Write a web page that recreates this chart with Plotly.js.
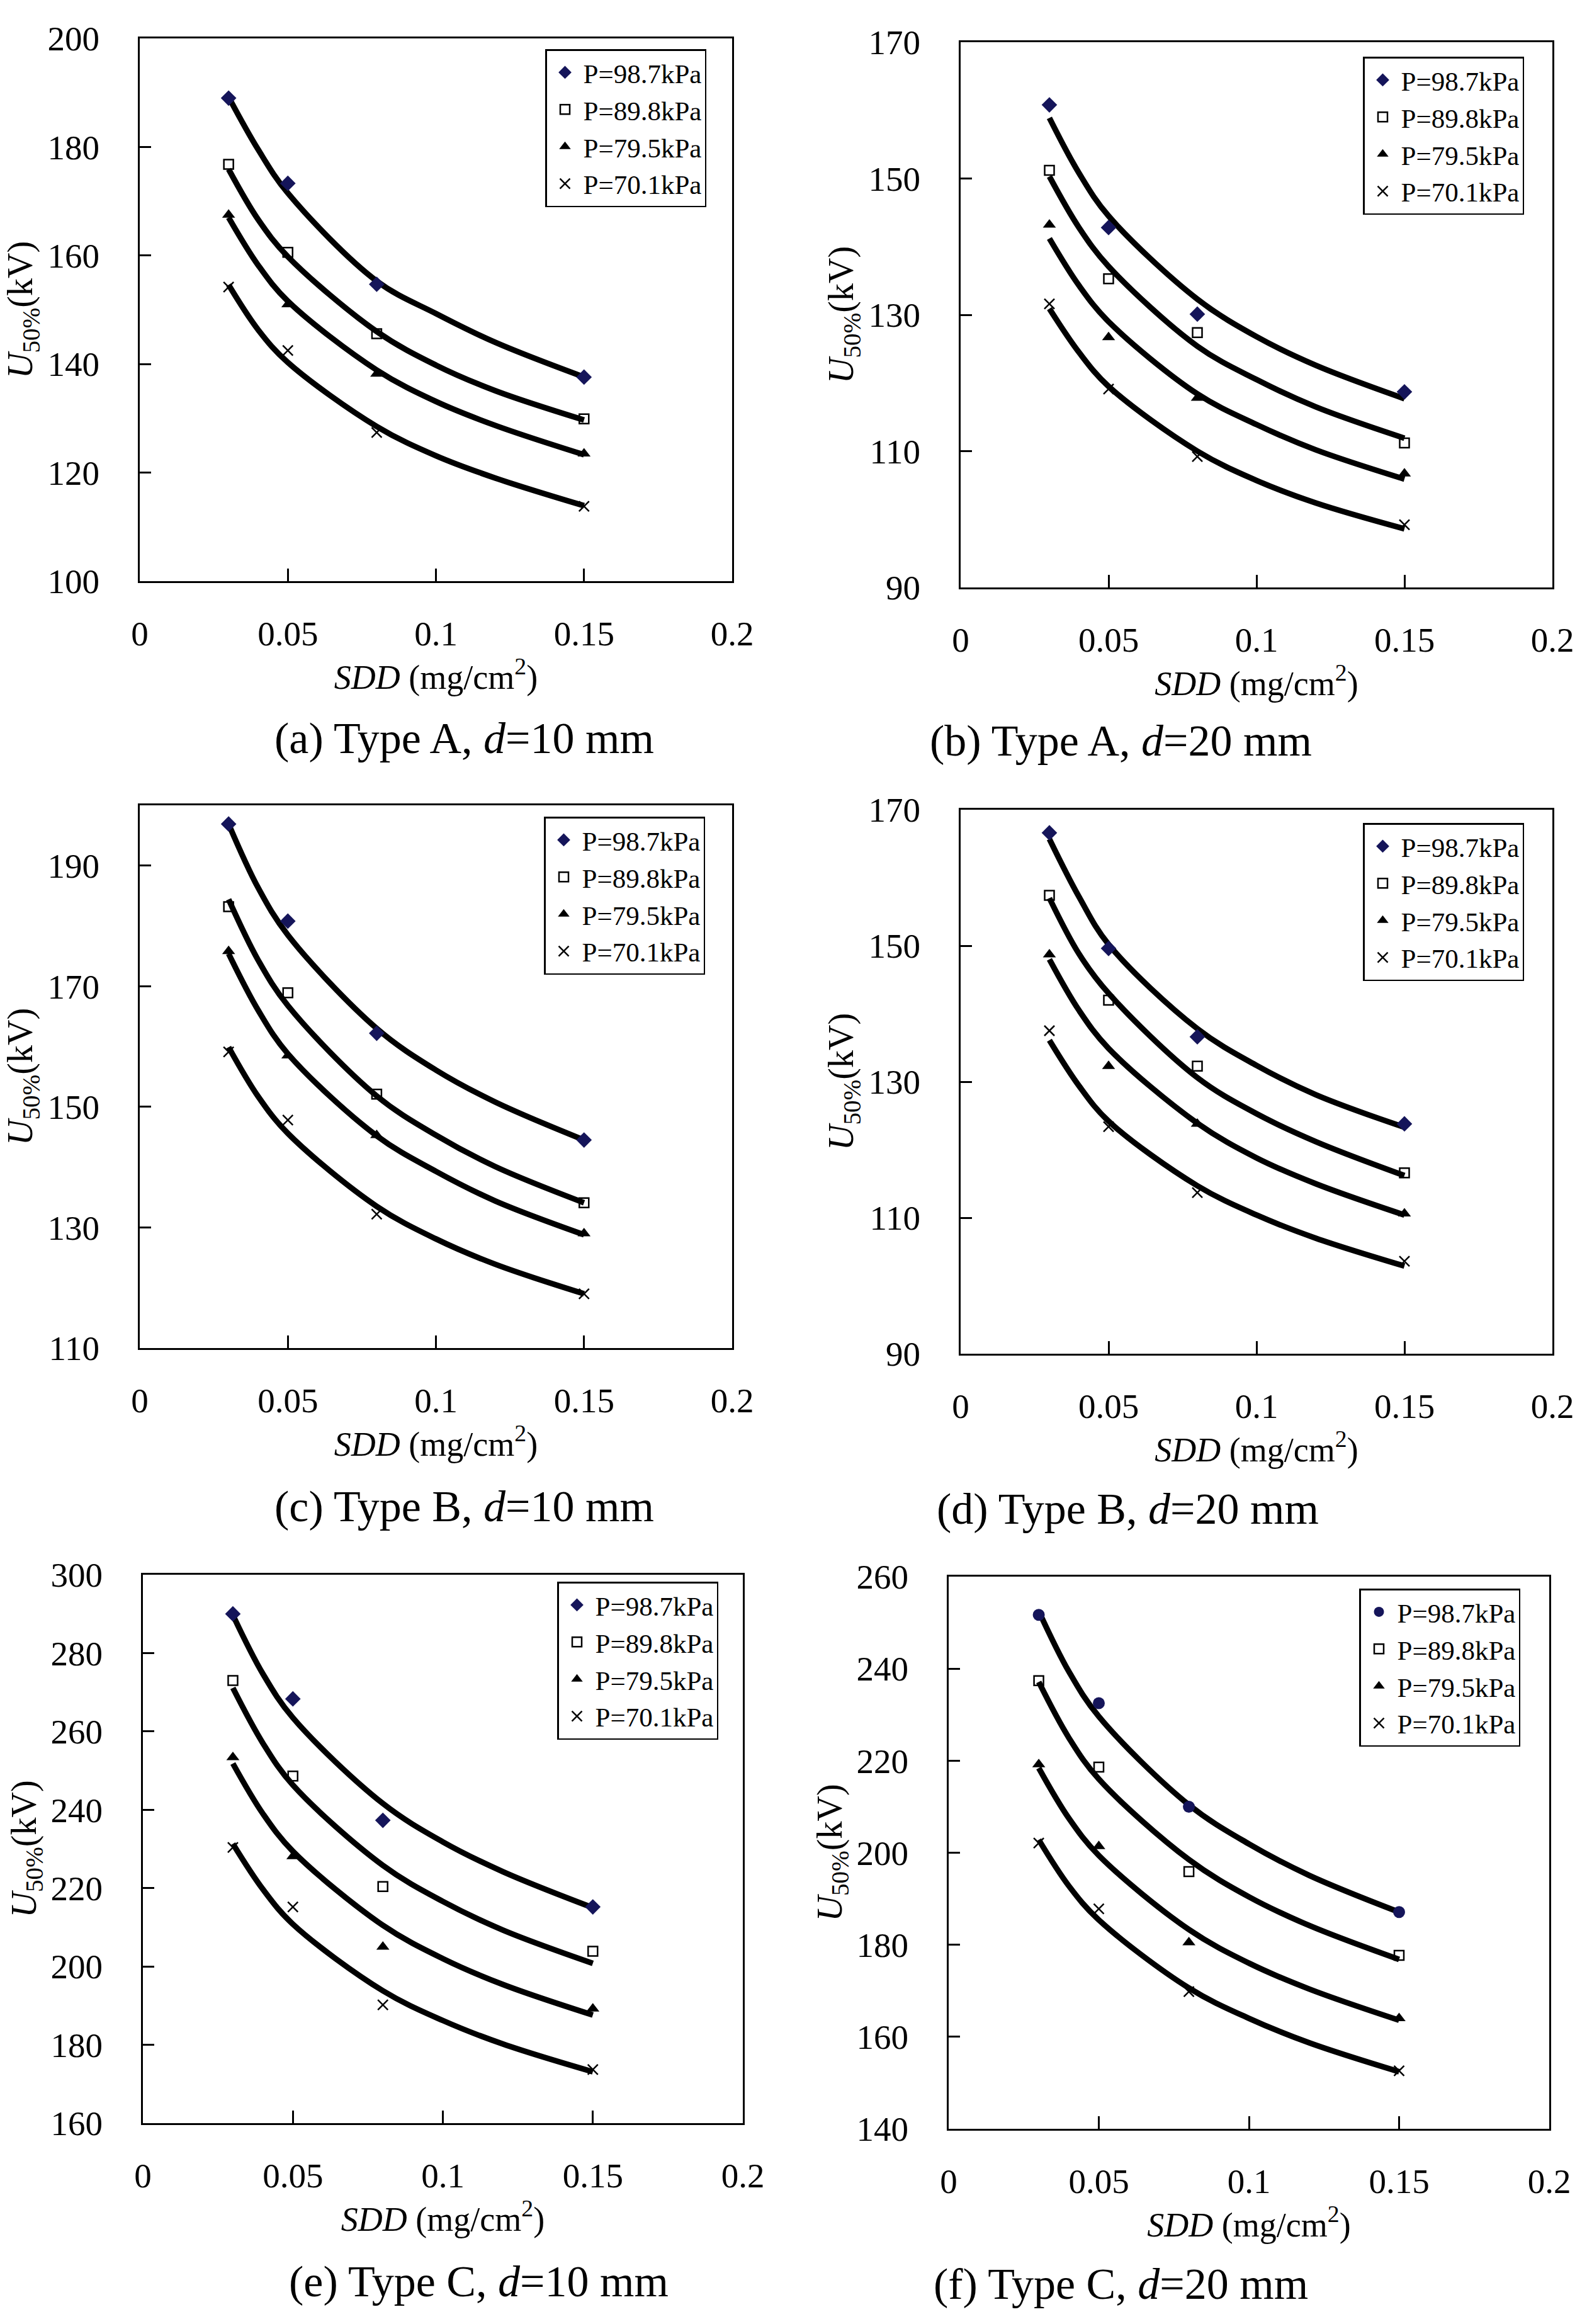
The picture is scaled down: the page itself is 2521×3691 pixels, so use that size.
<!DOCTYPE html>
<html>
<head>
<meta charset="utf-8">
<script src="https://cdn.plot.ly/plotly-3.0.1.min.js"></script>
<style>html,body{margin:0;padding:0;background:#fff}</style>
</head>
<body>
<div id="chart" style="width:2521px;height:3691px"></div>
<script>
// series names and SDD values (mg/cm2)
const pressures = ['P=98.7kPa', 'P=89.8kPa', 'P=79.5kPa', 'P=70.1kPa'];
const sdd = [0.03, 0.05, 0.08, 0.15];
const fitSdd = [0.03, 0.04, 0.05, 0.08, 0.10, 0.12, 0.15];

// measured U50% (kV), one row per pressure
const typeA10 = [[189.0, 173.3, 154.7, 137.6], [176.8, 160.6, 145.6, 129.9], [167.5, 151.0, 138.2, 123.5], [154.2, 142.5, 127.4, 113.8]];
const typeA20 = [[160.8, 142.8, 130.1, 118.7], [151.2, 135.3, 127.4, 111.2], [143.2, 126.7, 117.8, 106.7], [131.6, 119.1, 109.2, 99.2]];
const typeB10 = [[196.9, 180.8, 162.2, 144.5], [183.2, 168.9, 152.1, 134.1], [175.8, 158.5, 145.3, 129.0], [159.1, 147.8, 132.2, 119.0]];
const typeB20 = [[166.6, 149.6, 136.6, 123.8], [157.4, 142.0, 132.3, 116.6], [148.7, 132.3, 123.8, 110.6], [137.5, 123.4, 113.7, 103.6]];
const typeC10 = [[290.0, 268.3, 237.3, 215.2], [273.0, 248.6, 220.4, 203.9], [253.4, 228.1, 205.0, 189.2], [230.4, 215.2, 190.2, 173.7]];
const typeC20 = [[251.7, 232.5, 210.0, 187.1], [237.4, 218.6, 195.9, 177.7], [219.2, 201.4, 180.5, 164.0], [202.1, 187.8, 169.8, 152.6]];

// fitted curves at fitSdd
const typeA10Fit = [[189.2, 179.5, 171.5, 155.3, 149.3, 144.0, 137.6], [175.9, 166.6, 159.8, 146.0, 139.8, 135.1, 129.7], [167.0, 158.2, 151.6, 138.9, 133.1, 128.7, 123.3], [154.6, 146.3, 140.3, 128.5, 123.1, 119.0, 113.9]];
const typeA20Fit = [[158.9, 150.8, 144.5, 132.3, 126.8, 122.6, 117.7], [150.3, 142.8, 137.1, 125.4, 120.5, 116.5, 111.9], [141.2, 134.3, 129.0, 118.4, 113.9, 110.2, 105.9], [130.9, 124.5, 119.5, 110.0, 105.7, 102.4, 98.6]];
const typeB10Fit = [[196.9, 186.3, 178.5, 163.0, 156.1, 150.8, 144.5], [184.4, 174.3, 166.8, 151.8, 145.3, 140.1, 134.1], [175.4, 166.0, 158.8, 145.2, 139.3, 134.4, 128.8], [159.9, 151.7, 145.6, 133.5, 128.1, 123.9, 119.0]];
const typeB20Fit = [[165.7, 157.2, 150.2, 137.8, 132.4, 128.1, 123.3], [157.0, 148.8, 143.0, 130.6, 125.3, 121.2, 116.2], [148.0, 140.5, 134.9, 123.9, 118.8, 115.0, 110.4], [136.1, 129.4, 124.2, 114.7, 110.4, 107.0, 102.9]];
const typeC10Fit = [[289.7, 274.7, 263.5, 241.6, 231.8, 224.2, 215.0], [271.1, 257.0, 246.3, 225.8, 216.6, 209.3, 200.8], [251.8, 239.0, 229.4, 210.5, 202.0, 195.4, 187.6], [231.3, 219.7, 210.8, 193.8, 186.2, 180.2, 173.1]];
const typeC20Fit = [[252.5, 239.4, 229.6, 210.4, 201.9, 195.1, 187.1], [237.1, 225.0, 216.0, 198.5, 190.4, 184.2, 176.8], [218.4, 207.5, 199.4, 183.3, 176.0, 170.4, 163.6], [202.8, 192.8, 185.4, 170.6, 164.0, 158.7, 152.4]];

// y axis ranges and tick starts
const yRanges = [[100, 200], [90, 170], [110, 200], [90, 170], [160, 300], [140, 260]];
const yTick0 = [100, 90, 110, 90, 160, 140];
const captions = [
  '(a) Type A, <i>d</i>=10 mm', '(b) Type A, <i>d</i>=20 mm',
  '(c) Type B, <i>d</i>=10 mm', '(d) Type B, <i>d</i>=20 mm',
  '(e) Type C, <i>d</i>=10 mm', '(f) Type C, <i>d</i>=20 mm'
];

const measured = [typeA10, typeA20, typeB10, typeB20, typeC10, typeC20];
const fitted = [typeA10Fit, typeA20Fit, typeB10Fit, typeB20Fit, typeC10Fit, typeC20Fit];

// page geometry in pixels: [left, right, top, bottom] of each plot frame
const W = 2521, H = 3691;
const boxes = [
  [222, 1163, 61, 923], [1526, 2466, 67, 933],
  [222, 1163, 1279, 2141], [1526, 2466, 1286, 2150],
  [227, 1180, 2501, 3372], [1507, 2461, 2504, 3381]
];
const legendCorner = [[1122, 78], [2421, 90], [1120, 1297], [2421, 1307], [1141, 2512], [2415, 2523]];
const captionPos = [[737, 1172], [1780, 1176], [737, 2392], [1792, 2396], [760, 3623], [1780, 3627]];

const FONT = 'Liberation Serif, Times New Roman, serif';
const navy = '#15155a';
const markerStyles = [
  {symbol: 'diamond', size: 19, color: navy},
  {symbol: 'square-open', size: 15, color: '#000', line: {width: 2.5, color: '#000'}},
  {symbol: 'triangle-up', size: 18, color: '#000'},
  {symbol: 'x-thin-open', size: 16, color: '#000', line: {width: 2.5, color: '#000'}}
];

const traces = [];
const layout = {
  width: W, height: H,
  margin: {l: 0, r: 0, t: 0, b: 0},
  paper_bgcolor: '#fff', plot_bgcolor: '#fff',
  font: {family: FONT, color: '#000', size: 55},
  showlegend: true,
  annotations: []
};

boxes.forEach(([l, r, t, b], i) => {
  const n = i === 0 ? '' : String(i + 1);
  const xa = 'x' + n, ya = 'y' + n;
  const legendId = 'legend' + n;

  fitted[i].forEach(row => {
    traces.push({
      x: fitSdd, y: row, xaxis: xa, yaxis: ya,
      mode: 'lines', line: {color: '#000', width: 9, shape: 'spline', smoothing: 1},
      showlegend: false, hoverinfo: 'skip'
    });
  });

  measured[i].forEach((row, k) => {
    const m = Object.assign({}, markerStyles[k]);
    if (i === 5 && k === 0) m.symbol = 'circle';
    traces.push({
      x: sdd, y: row, xaxis: xa, yaxis: ya,
      mode: 'markers', name: pressures[k], marker: m,
      legend: legendId
    });
  });

  layout['xaxis' + n] = {
    domain: [l / W, r / W], anchor: ya,
    range: [0, 0.2], tick0: 0, dtick: 0.05,
    showgrid: false, zeroline: false,
    showline: true, mirror: true, linecolor: '#000', linewidth: 3,
    ticks: 'inside', ticklen: 20, tickwidth: 3, tickcolor: '#000',
    ticklabelstandoff: 33,
    tickfont: {family: FONT, size: 55},
    title: {text: '<i>SDD</i> (mg/cm<sup>2</sup>)', font: {family: FONT, size: 54}, standoff: 0}
  };
  layout['yaxis' + n] = {
    domain: [1 - b / H, 1 - t / H], anchor: xa,
    range: yRanges[i], tick0: yTick0[i], dtick: 20,
    showgrid: false, zeroline: false,
    showline: true, mirror: true, linecolor: '#000', linewidth: 3,
    ticks: 'inside', ticklen: 18, tickwidth: 3, tickcolor: '#000',
    ticklabelstandoff: 50,
    tickfont: {family: FONT, size: 55}
  };

  layout[legendId] = {
    x: legendCorner[i][0] / W, y: 1 - legendCorner[i][1] / H,
    xanchor: 'right', yanchor: 'top',
    bgcolor: '#fff', bordercolor: '#000', borderwidth: 2.5,
    font: {family: FONT, size: 43, color: '#000'},
    itemwidth: 48
  };

  // y axis title, placed beside the tick labels as in the reference
  layout.annotations.push({
    xref: 'paper', yref: 'paper',
    x: (l - 186) / W, y: 1 - (t + b) / 2 / H,
    xanchor: 'center', yanchor: 'middle', textangle: -90, showarrow: false,
    text: '<i>U</i><sub>50%</sub>(kV)', font: {family: FONT, size: 56, color: '#000'}
  });

  layout.annotations.push({
    xref: 'paper', yref: 'paper',
    x: captionPos[i][0] / W, y: 1 - captionPos[i][1] / H,
    xanchor: 'center', yanchor: 'middle', showarrow: false,
    text: captions[i], font: {family: FONT, size: 70, color: '#000'}
  });
});

Plotly.newPlot('chart', traces, layout, {staticPlot: true});
</script>
</body>
</html>
